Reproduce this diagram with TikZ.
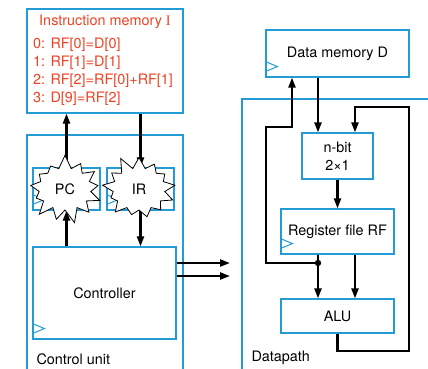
\documentclass[tikz,border=0pt]{standalone}
\usepackage{fontspec}
\setmainfont{TeX Gyre Heros}
\newfontfamily\serifI{Liberation Serif}
\usepackage{tikz}
\usetikzlibrary{arrows.meta, calc, shapes.symbols}
\definecolor{cublue}{RGB}{35,155,215}
\definecolor{cured}{RGB}{240,65,35}

\tikzset{
  blk/.style={draw=cublue, line width=1.1pt, inner sep=0pt},
  wire/.style={line width=2.2pt, -{Triangle[length=10pt,width=7pt]}},
  plain/.style={line width=2.2pt},
  burst/.style={starburst, draw=black, fill=white, line width=0.8pt, starburst points=13,
    starburst point height=14pt, random starburst=7, inner sep=0pt,
    minimum width=80pt, minimum height=70pt},
  txt/.style={font=\fontsize{14.4}{18}\selectfont}
}
\newcommand{\clk}[1]{\draw[cublue, line width=1pt] ($(#1.south west)+(0,-16)$) -- ++(12,5) -- ++(-12,5);}

\begin{document}
\begin{tikzpicture}[x=1pt, y=-1pt]
  \useasboundingbox (0,0) rectangle (428,368);
  \clip (0,0) rectangle (428,368);
  % Instruction memory
  \node[blk, minimum width=156pt, minimum height=104pt] (instmem) at (105,61) {};
  \node[txt, text=cured] (imtitle) at (105,22) {Instruction memory {\serifI I}};
  \node[txt, text=cured, anchor=west, align=left, inner sep=0pt] (prog) at (33,72)
    {0: RF[0]=D[0]\\1: RF[1]=D[1]\\2: RF[2]=RF[0]+RF[1]\\3: D[9]=RF[2]};
  % Control unit
  \node[blk, minimum width=156pt, minimum height=245pt] (ctrlunit) at (105,257.5) {};
  \node[txt, anchor=west] (culbl) at (33,359) {Control unit};
  \node[blk, minimum width=67pt, minimum height=42pt] (pc) at (66.5,189) {};
  \node[blk, minimum width=67pt, minimum height=42pt] (ir) at (140.5,189) {};
  \clk{pc}
  \clk{ir}
  \node[blk, txt, minimum width=143pt, minimum height=92pt] (ctrl) at (104.5,293) {Controller};
  \clk{ctrl}
  \coordinate (o1) at (230,263);
  \coordinate (o2) at (230,276);
  \draw[wire] (ctrl.north -| pc.south) -- (pc.south);
  \draw[wire] (pc.north) -- (pc.north |- instmem.south);
  \draw[wire] (instmem.south -| ir.north) -- (ir.north);
  \draw[wire] (ir.south) -- (ir.south |- ctrl.north);
  \draw[wire] (ctrl.east |- o1) -- (o1);
  \draw[wire] (ctrl.east |- o2) -- (o2);
  \node[burst, txt] (pcb) at (65,189) {PC};
  \node[burst, txt, random starburst=11] (irb) at (139,189) {IR};
  % Datapath
  \node[blk, minimum width=198pt, minimum height=281pt] (datapath) at (341,239.5) {};
  \node[txt, anchor=west] (dplbl) at (248,358) {Datapath};
  \node[blk, txt, minimum width=143pt, minimum height=47pt] (datamem) at (337.5,53.5) {Data memory D};
  \clk{datamem}
  \node[blk, txt, align=center, minimum width=71pt, minimum height=46pt] (mux) at (337.5,156) {n-bit\\2\texttimes1};
  \node[blk, txt, minimum width=113pt, minimum height=45pt] (rf) at (337.5,231.5) {Register file RF};
  \clk{rf}
  \node[blk, txt, minimum width=113pt, minimum height=34pt] (alu) at (337.5,316) {ALU};
  \coordinate (j) at (318,263);
  \coordinate (lw) at (266,127);
  \coordinate (da) at (292,127);
  \coordinate (fbr) at (409,351);
  \coordinate (b) at (355,107);
  \draw[wire] (datamem.south -| j) -- (mux.north -| j);
  \draw[wire] (alu.south) |- (fbr) |- (b) -- (mux.north -| b);
  \draw[wire] (mux.south) -- (rf.north -| mux.south);
  \draw[plain] (rf.south -| j) -- (j);
  \draw[wire] (j) -- (alu.north -| j);
  \draw[wire] (j) -| (lw) -- (da) -- (datamem.south -| da);
  \draw[wire] (rf.south -| b) -- (alu.north -| b);
  \fill (j) circle (3.2pt);
\end{tikzpicture}
\end{document}
